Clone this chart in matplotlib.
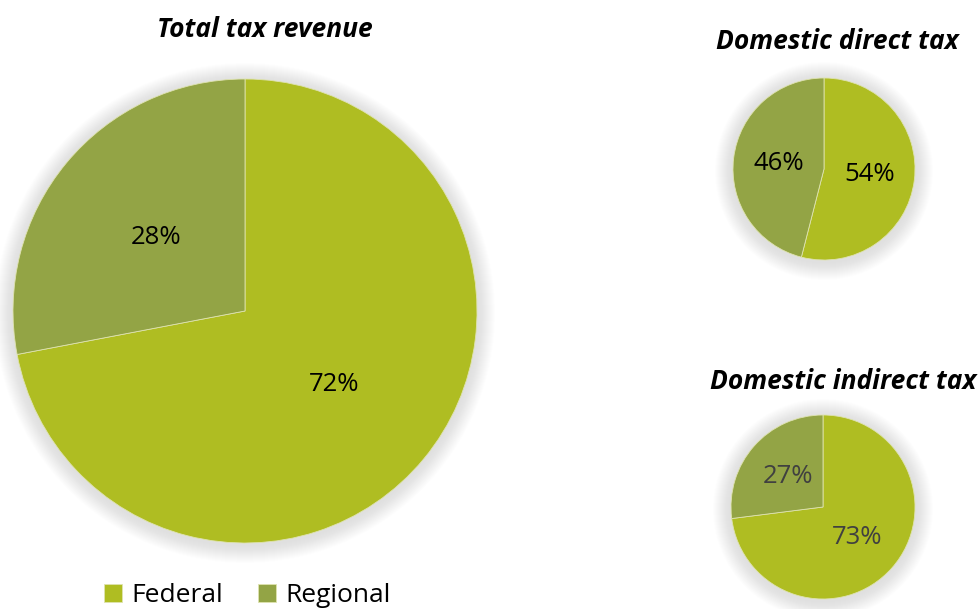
import matplotlib.pyplot as plt
from matplotlib.patches import Circle

plt.rcParams['font.family'] = ['Open Sans', 'DejaVu Sans']

# Data
categories = ["Federal", "Regional"]
total_share = [72, 28]
direct_share = [54, 46]
indirect_share = [73, 27]
titles = ["Total tax revenue", "Domestic direct tax", "Domestic indirect tax"]
colours = ['#afbd22', '#93a445']

fig = plt.figure(figsize=(9.79, 6.09), dpi=100)
ax = fig.add_axes([0, 0, 1, 1])
ax.set_xlim(0, 979)
ax.set_ylim(0, 609)
ax.set_aspect('equal')
ax.axis('off')


def soft_shadow(cx, cy, r, spread):
    # stack faint grey rings to fake the blurred shadow
    for k in range(spread, 0, -1):
        ax.add_patch(Circle((cx, cy - 2), r + k, color='#909090', alpha=0.012, lw=0, zorder=1))


def draw_pie(values, cx, cy, r, text_colour, size):
    soft_shadow(cx, cy, r, 18)
    wedges, _, autotexts = ax.pie(values, colors=colours, startangle=90, counterclock=False,
                                  center=(cx, cy), radius=r, autopct='%d%%', pctdistance=0.5,
                                  wedgeprops=dict(edgecolor='#dfe3b0', linewidth=0.6),
                                  textprops=dict(color=text_colour, fontsize=size),
                                  frame=True)
    for w in wedges:
        w.set_zorder(2)
    for t in autotexts:
        t.set_zorder(3)
    return wedges


wedges = draw_pie(total_share, 245, 298, 232, 'black', 18.5)
draw_pie(direct_share, 824, 440, 91, 'black', 18.5)
draw_pie(indirect_share, 823, 102, 92, '#404040', 18.5)

# pie() resets limits when frame=True, so put them back
ax.set_xlim(0, 979)
ax.set_ylim(0, 609)
ax.axis('off')

ax.text(265, 580, titles[0], ha='center', va='center', fontsize=19, fontweight='bold', style='italic')
ax.text(837, 568, titles[1], ha='center', va='center', fontsize=19, fontweight='bold', style='italic')
ax.text(843, 228, titles[2], ha='center', va='center', fontsize=19, fontweight='bold', style='italic')

ax.legend(wedges, categories, loc='center left', bbox_to_anchor=(104 / 979, 13 / 609), ncol=2,
          frameon=False, fontsize=19, handlelength=0.7, handleheight=0.7, handletextpad=0.35,
          columnspacing=1.3, borderpad=0, borderaxespad=0)

fig.savefig('out.png', dpi=100)
